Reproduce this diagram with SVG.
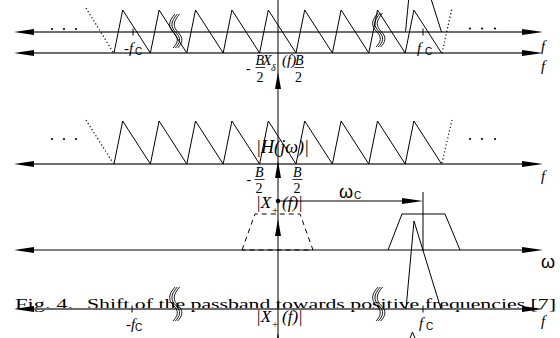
<svg xmlns="http://www.w3.org/2000/svg" width="560" height="338" viewBox="0 0 560 338">
<style>
.ax{stroke:#6e6e6e;stroke-width:2;fill:none}
.axb{stroke:#000;stroke-width:1;fill:none}
.ln{stroke:#000;stroke-width:1;fill:none}
.dot{stroke:#000;stroke-width:1.2;stroke-dasharray:1.2 2.4;fill:none}
.dash{stroke:#000;stroke-width:1;stroke-dasharray:5 4;fill:none}
.sq{stroke:#000;stroke-width:0.9;fill:none}
.ah{fill:#000}
.it{font-family:"Liberation Serif",serif;font-style:italic;fill:#000}
.rm{font-family:"Liberation Serif",serif;fill:#000}
.sf{font-family:"Liberation Sans",sans-serif;fill:#000}
.bar{stroke:#000;stroke-width:0.8}
</style>
<defs>
<path id="ahR" d="M0,0 L-21,-3 L-21,3 Z"/>
<path id="ahL" d="M0,0 L20,-3 L20,3 Z"/>
<path id="ahU" d="M0,0 L-3,17 L3,17 Z"/>
<g id="brk">
<path d="M2,0 C-5,8 -5,13 1,19 C6,24 5,29 0,34"/>
<path d="M4.3,0 C-2.7,8 -2.7,13 3.3,19 C8.3,24 7.3,29 2.3,34"/>
<path d="M6.6,0 C-0.4,8 -0.4,13 5.6,19 C10.6,24 9.6,29 4.6,34"/>
</g>
</defs>

<g id="caption">
<text class="rm" x="15" y="308.7" font-size="14.6" textLength="58" lengthAdjust="spacingAndGlyphs">Fig. 4.</text>
<text class="rm" x="87" y="308.7" font-size="14.6" textLength="469" lengthAdjust="spacingAndGlyphs">Shift of the passband towards positive frequencies [7]</text>
</g>

<g id="axes">
<line class="ax" x1="20" y1="32" x2="530" y2="32"/>
<line class="ax" x1="20" y1="53" x2="530" y2="53"/>
<line class="ax" x1="20" y1="164" x2="530" y2="164"/>
<line class="axb" x1="20" y1="250" x2="530" y2="250"/>
<line class="ax" x1="20" y1="309" x2="530" y2="309"/>
<line class="axb" x1="278" y1="0" x2="278" y2="338"/>
<use href="#ahL" class="ah" x="14" y="32"/>
<use href="#ahL" class="ah" x="14" y="53"/>
<use href="#ahL" class="ah" x="14" y="164"/>
<use href="#ahL" class="ah" x="14" y="250"/>
<use href="#ahL" class="ah" x="14" y="309"/>
<use href="#ahR" class="ah" x="543" y="32"/>
<use href="#ahR" class="ah" x="543" y="53"/>
<use href="#ahR" class="ah" x="543" y="164"/>
<use href="#ahR" class="ah" x="543" y="250"/>
<use href="#ahR" class="ah" x="543" y="309"/>
<use href="#ahU" class="ah" x="278" y="72"/>
<use href="#ahU" class="ah" x="278" y="161"/>
<use href="#ahU" class="ah" x="278" y="219"/>
<use href="#ahU" class="ah" x="278" y="333"/>
<line class="ln" x1="133" y1="28.5" x2="133" y2="35.5"/>
<line class="ln" x1="423" y1="28.5" x2="423" y2="35.5"/>
<line class="ln" x1="132" y1="305.5" x2="132" y2="312.5"/>
<line class="ln" x1="423" y1="305.5" x2="423" y2="312.5"/>
</g>

<g id="plot1">
<polyline class="ln" points="114,53 122.7,10 150.4,53 159.1,10 186.8,53 195.5,10 223.2,53 231.9,10 259.6,53 268.3,10 296,53 304.7,10 332.4,53 341.1,10 368.8,53 377.5,10 405.2,53 413.9,10 441.6,53"/>
<line class="dot" x1="86" y1="8" x2="113" y2="52"/>
<line class="dot" x1="442" y1="53" x2="452" y2="8"/>
<line class="ln" x1="405.5" y1="32" x2="408.6" y2="0"/>
<line class="ln" x1="431.4" y1="0" x2="441.5" y2="32"/>
<circle cx="52" cy="29" r="1.1"/><circle cx="64" cy="29" r="1.1"/><circle cx="76" cy="29" r="1.1"/>
<circle cx="470" cy="28.5" r="1.1"/><circle cx="482" cy="28.5" r="1.1"/><circle cx="495" cy="28.5" r="1.1"/>
<use href="#brk" class="sq" x="173" y="14"/>
<use href="#brk" class="sq" x="376" y="13"/>
</g>

<g id="plot2">
<polyline class="ln" points="114,164 122.7,121 150.4,164 159.1,121 186.8,164 195.5,121 223.2,164 231.9,121 259.6,164 268.3,121 296,164 304.7,121 332.4,164 341.1,121 368.8,164 377.5,121 405.2,164 413.9,121 441.6,164"/>
<line class="dot" x1="86" y1="120" x2="113" y2="163"/>
<line class="dot" x1="442" y1="163" x2="452" y2="120"/>
<circle cx="52" cy="139" r="1.1"/><circle cx="64" cy="139" r="1.1"/><circle cx="76" cy="139" r="1.1"/>
<circle cx="470" cy="139" r="1.1"/><circle cx="482" cy="139" r="1.1"/><circle cx="495" cy="139" r="1.1"/>
</g>

<g id="plot3">
<polygon class="dash" points="242,250 255,214 300,214 313,250"/>
<polyline class="ln" points="388,250 402,214 445,214 460,250"/>
<line class="ln" x1="278" y1="201" x2="406" y2="201"/>
<use href="#ahR" class="ah" x="423" y="201"/>
<line class="ln" x1="423" y1="192" x2="423" y2="251"/>
<circle cx="278" cy="201" r="2.2"/>
</g>

<g id="plot4">
<polyline class="ln" points="406,309 414,221 441,309"/>
<polyline class="ln" points="410,338 412.5,332 415,338"/>
<use href="#brk" class="sq" x="173" y="287"/>
<use href="#brk" class="sq" x="376" y="287"/>
</g>

<g id="labels">
<text class="it" x="124" y="53" font-size="15">-f</text><text class="sf" x="135" y="55" font-size="10">C</text>
<text class="it" x="417" y="53" font-size="15">f</text><text class="sf" x="425" y="55" font-size="10">C</text>
<text class="it" x="126" y="329" font-size="15">-f</text><text class="sf" x="135" y="331" font-size="10">C</text>
<text class="it" x="419" y="328" font-size="15">f</text><text class="sf" x="426" y="330" font-size="10">C</text>

<text class="it" x="541" y="50.5" font-size="15">f</text>
<text class="it" x="541" y="70.5" font-size="15">f</text>
<text class="it" x="541" y="181" font-size="15">f</text>
<text class="it" x="541" y="326" font-size="15">f</text>
<text class="sf" x="541" y="268" font-size="18">ω</text>
<text class="sf" x="339" y="198" font-size="18">ω</text><text class="sf" x="354" y="199" font-size="10">C</text>

<text class="rm" x="246" y="73" font-size="14">-</text>
<text class="it" x="255.5" y="65" font-size="14">B</text>
<line class="bar" x1="255.5" y1="67.5" x2="265" y2="67.5"/>
<text class="rm" x="256.5" y="82" font-size="14">2</text>
<text class="it" x="295" y="65" font-size="14">B</text>
<line class="bar" x1="294.5" y1="67.5" x2="304" y2="67.5"/>
<text class="rm" x="295" y="82" font-size="14">2</text>
<text class="it" x="262.5" y="65" font-size="15">X</text>
<text class="it" x="271" y="71" font-size="10">δ</text>
<text class="it" x="282" y="65" font-size="15">(f)</text>

<text class="rm" x="246.5" y="184" font-size="14">-</text>
<text class="it" x="255" y="177" font-size="14">B</text>
<line class="bar" x1="254.5" y1="179.5" x2="264.5" y2="179.5"/>
<text class="rm" x="255.5" y="193" font-size="14">2</text>
<text class="it" x="293" y="177" font-size="14">B</text>
<line class="bar" x1="292.5" y1="179.5" x2="302.5" y2="179.5"/>
<text class="rm" x="293.5" y="193" font-size="14">2</text>

<text class="it" x="256" y="153" font-size="18" textLength="53" lengthAdjust="spacingAndGlyphs">|H(jω)|</text>

<text class="it" x="256" y="208" font-size="17">|X</text>
<text class="rm" x="272" y="214" font-size="11">+</text>
<text class="it" x="282" y="208" font-size="17">(f)|</text>

<text class="it" x="256" y="322" font-size="17">|X</text>
<text class="rm" x="272" y="328" font-size="11">+</text>
<text class="it" x="282" y="322" font-size="17">(f)|</text>
</g>
</svg>
